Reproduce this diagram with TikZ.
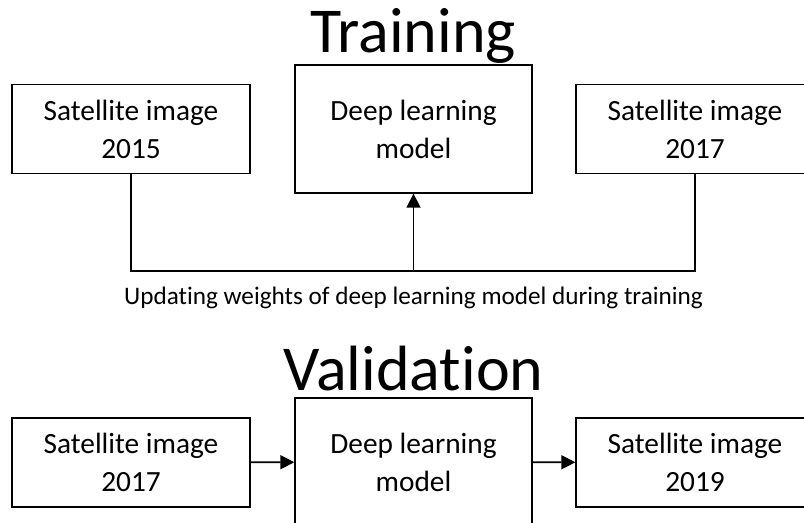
\documentclass[tikz,border=0pt]{standalone}
\usepackage{fontspec}
\setmainfont[Ligatures={NoCommon}]{Carlito}
\usetikzlibrary{arrows.meta}
\begin{document}
\begin{tikzpicture}[x=0.75pt,y=-0.75pt,
  imgbox/.style={draw,line width=1pt,align=center,inner sep=0pt,
    minimum width=178.5pt,minimum height=66.75pt,font=\fontsize{22}{28.5}\selectfont},
  modelbox/.style={imgbox,minimum width=177.75pt,minimum height=96pt},
  heading/.style={anchor=base,font=\fontsize{48}{52}\selectfont},
  link/.style={draw,line width=1.2pt},
  >={Triangle[length=10.5pt,width=10.5pt]}]
\clip (0,0) rectangle (804,523);

% Training
\node[heading] (train) at (413,53) {Training};
\node[imgbox] (a15) at (131,129) {Satellite image\\2015};
\node[modelbox] (m1) at (413.5,129) {Deep learning\\model};
\node[imgbox] (a17) at (695,129) {Satellite image\\2017};
\coordinate (j) at (m1.south |- 0,271);

\path[link] (a15.south) |- (j) -| (a17.south);
\path[link,->] (j) -- (m1.south);
\node[anchor=base,font=\fontsize{18.9}{22}\selectfont] (note) at (413.5,305)
  {Updating weights of deep learning model during training};

% Validation
\node[heading] (valid) at (413.5,391) {Validation};
\node[imgbox] (b17) at (131,462.5) {Satellite image\\2017};
\node[modelbox] (m2) at (413.5,462) {Deep learning\\model};
\node[imgbox] (b19) at (695,462.5) {Satellite image\\2019};

\path[link,->] (b17) -- (m2);
\path[link,->] (m2) -- (b19);
\end{tikzpicture}
\end{document}
